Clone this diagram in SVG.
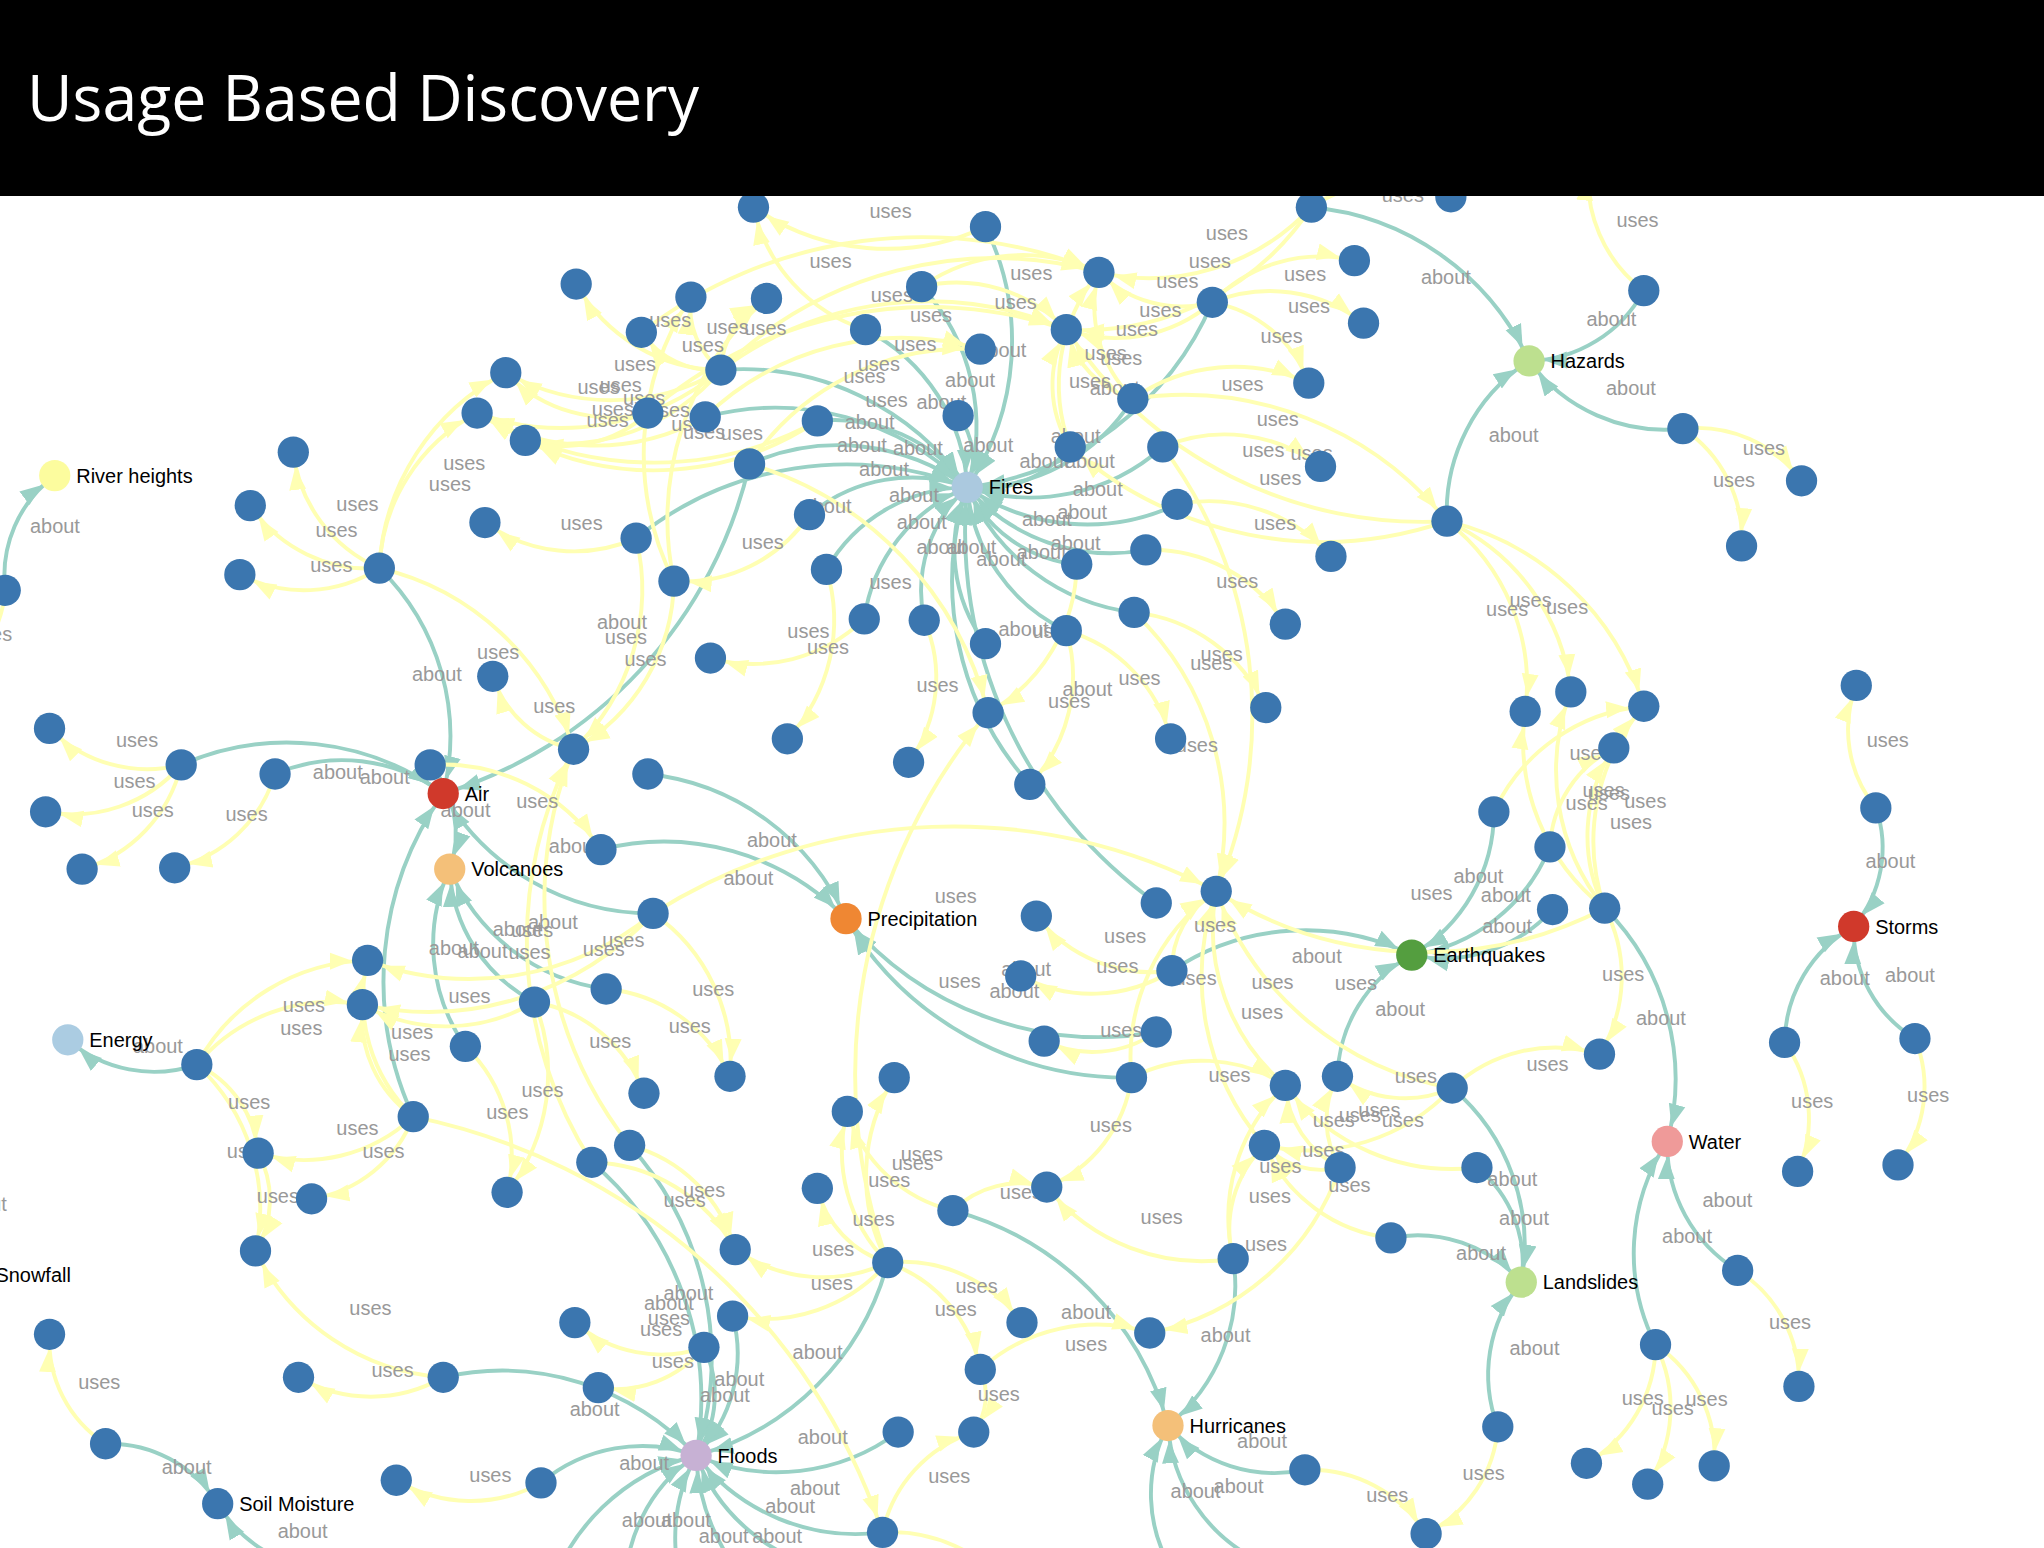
<svg xmlns="http://www.w3.org/2000/svg" width="2044" height="1548" viewBox="0 0 2044 1548">
<style>
.a{fill:none;stroke:#99d1c5;stroke-width:3;marker-end:url(#ma)}
.u{fill:none;stroke:#ffffb3;stroke-width:3;marker-end:url(#mu)}
.el text{font-family:"Liberation Sans",Arial,sans-serif;font-size:15.3px;fill:#999}
.n circle{fill:#3b76af}
.c text{font-family:"Liberation Sans",Arial,sans-serif;font-size:15.3px;fill:#000}
</style>
<defs>
<marker id="ma" markerUnits="userSpaceOnUse" viewBox="0 -8 20 16" refX="29" refY="0" markerWidth="20" markerHeight="16" orient="auto"><path d="M0,-6.5L17,0L0,6.5Z" fill="#99d1c5"/></marker>
<marker id="mu" markerUnits="userSpaceOnUse" viewBox="0 -8 20 16" refX="29" refY="0" markerWidth="20" markerHeight="16" orient="auto"><path d="M0,-6.5L17,0L0,6.5Z" fill="#ffffb3"/></marker>
</defs>
<rect width="2044" height="1548" fill="#fff"/>
<g transform="scale(1.30357,1.30303)">
<g id="links">
<path class="a" d="M4,453A96,96 0 0,1 42,365"/>
<path class="a" d="M1006,159A204,204 0 0,1 1173,277"/>
<path class="a" d="M1261,223A103,103 0 0,1 1173,277"/>
<path class="a" d="M1291,329A129,129 0 0,1 1173,277"/>
<path class="a" d="M1110,400A138,138 0 0,1 1173,277"/>
<path class="a" d="M1439,620A93,93 0 0,1 1422,711"/>
<path class="a" d="M1369,800A104,104 0 0,1 1422,711"/>
<path class="a" d="M1469,797A98,98 0 0,1 1422,711"/>
<path class="a" d="M1333,975A113,113 0 0,1 1279,876"/>
<path class="a" d="M1270,1032A156,156 0 0,1 1279,876"/>
<path class="a" d="M1231,697A185,185 0 0,1 1279,876"/>
<path class="a" d="M1114,835A158,158 0 0,1 1167,984"/>
<path class="a" d="M1133,896A94,94 0 0,1 1167,984"/>
<path class="a" d="M1067,950A106,106 0 0,1 1167,984"/>
<path class="a" d="M1149,1095A112,112 0 0,1 1167,984"/>
<path class="a" d="M1001,1128A110,110 0 0,1 896,1094"/>
<path class="a" d="M946,966A137,137 0 0,1 896,1094"/>
<path class="a" d="M731,929A233,233 0 0,1 896,1094"/>
<path class="a" d="M900,1206A112,112 0 0,1 896,1094"/>
<path class="a" d="M966,1198A125,125 0 0,1 896,1094"/>
<path class="a" d="M1146,623A127,127 0 0,1 1083,733"/>
<path class="a" d="M1189,650A135,135 0 0,1 1083,733"/>
<path class="a" d="M1191,698A114,114 0 0,1 1083,733"/>
<path class="a" d="M899,745A184,184 0 0,1 1083,733"/>
<path class="a" d="M1026,826A109,109 0 0,1 1083,733"/>
<path class="a" d="M139,587A202,202 0 0,1 340,609"/>
<path class="a" d="M211,594A130,130 0 0,1 340,609"/>
<path class="a" d="M330,587A81,81 0 0,1 345,667"/>
<path class="a" d="M291,436A180,180 0 0,1 340,609"/>
<path class="a" d="M575,356A345,345 0 0,1 340,609"/>
<path class="a" d="M501,701A185,185 0 0,1 340,609"/>
<path class="a" d="M317,857A249,249 0 0,1 340,609"/>
<path class="a" d="M410,769A121,121 0 0,1 345,667"/>
<path class="a" d="M465,759A151,151 0 0,1 345,667"/>
<path class="a" d="M357,803A137,137 0 0,1 345,667"/>
<path class="a" d="M497,594A188,188 0 0,1 649,705"/>
<path class="a" d="M461,652A195,195 0 0,1 649,705"/>
<path class="a" d="M887,792A253,253 0 0,1 649,705"/>
<path class="a" d="M868,827A251,251 0 0,1 649,705"/>
<path class="a" d="M151,817A101,101 0 0,1 52,798"/>
<path class="a" d="M81,1108A98,98 0 0,1 167,1154"/>
<path class="a" d="M258,1205A104,104 0 0,1 167,1154"/>
<path class="a" d="M-45,880A101,101 0 0,1 -20,978"/>
<path class="a" d="M340,1057A203,203 0 0,1 534,1117"/>
<path class="a" d="M415,1138A121,121 0 0,1 534,1117"/>
<path class="a" d="M483,879A243,243 0 0,1 534,1117"/>
<path class="a" d="M454,892A239,239 0 0,1 534,1117"/>
<path class="a" d="M562,1010A111,111 0 0,1 534,1117"/>
<path class="a" d="M540,1034A83,83 0 0,1 534,1117"/>
<path class="a" d="M681,969A209,209 0 0,1 534,1117"/>
<path class="a" d="M689,1099A156,156 0 0,1 534,1117"/>
<path class="a" d="M677,1176A155,155 0 0,1 534,1117"/>
<path class="a" d="M420,1227A158,158 0 0,1 534,1117"/>
<path class="a" d="M480,1227A123,123 0 0,1 534,1117"/>
<path class="a" d="M538,1251A134,134 0 0,1 534,1117"/>
<path class="a" d="M620,1251A159,159 0 0,1 534,1117"/>
<path class="a" d="M640,1205A138,138 0 0,1 534,1117"/>
<path class="a" d="M756,174A200,200 0 0,1 742,374"/>
<path class="a" d="M707,220A158,158 0 0,1 742,374"/>
<path class="a" d="M664,253A144,144 0 0,1 742,374"/>
<path class="a" d="M553,284A209,209 0 0,1 742,374"/>
<path class="a" d="M541,320A208,208 0 0,1 742,374"/>
<path class="a" d="M627,323A126,126 0 0,1 742,374"/>
<path class="a" d="M575,356A168,168 0 0,1 742,374"/>
<path class="a" d="M488,413A257,257 0 0,1 742,374"/>
<path class="a" d="M621,395A123,123 0 0,1 742,374"/>
<path class="a" d="M634,437A125,125 0 0,1 742,374"/>
<path class="a" d="M663,475A128,128 0 0,1 742,374"/>
<path class="a" d="M709,476A107,107 0 0,1 742,374"/>
<path class="a" d="M756,494A121,121 0 0,1 742,374"/>
<path class="a" d="M818,484A134,134 0 0,1 742,374"/>
<path class="a" d="M870,470A160,160 0 0,1 742,374"/>
<path class="a" d="M826,433A103,103 0 0,1 742,374"/>
<path class="a" d="M879,422A145,145 0 0,1 742,374"/>
<path class="a" d="M903,387A162,162 0 0,1 742,374"/>
<path class="a" d="M892,343A153,153 0 0,1 742,374"/>
<path class="a" d="M821,343A85,85 0 0,1 742,374"/>
<path class="a" d="M869,306A144,144 0 0,1 742,374"/>
<path class="a" d="M930,232A236,236 0 0,1 742,374"/>
<path class="a" d="M790,602A233,233 0 0,1 742,374"/>
<path class="a" d="M887,693A350,350 0 0,1 742,374"/>
<path class="a" d="M735,319A55,55 0 0,1 742,374"/>
<path class="u" d="M4,453A94,94 0 0,1 -50,530"/>
<path class="u" d="M1261,223A107,107 0 0,1 1219,125"/>
<path class="u" d="M1291,329A99,99 0 0,1 1382,369"/>
<path class="u" d="M1291,329A101,101 0 0,1 1336,419"/>
<path class="u" d="M1439,620A95,95 0 0,1 1424,526"/>
<path class="u" d="M1369,800A100,100 0 0,1 1379,899"/>
<path class="u" d="M1469,797A98,98 0 0,1 1456,894"/>
<path class="u" d="M1333,975A101,101 0 0,1 1380,1064"/>
<path class="u" d="M1270,1032A105,105 0 0,1 1217,1123"/>
<path class="u" d="M1270,1032A107,107 0 0,1 1264,1139"/>
<path class="u" d="M1270,1032A103,103 0 0,1 1315,1125"/>
<path class="u" d="M1149,1095A99,99 0 0,1 1094,1177"/>
<path class="u" d="M1001,1128A105,105 0 0,1 1094,1177"/>
<path class="u" d="M81,1108A94,94 0 0,1 38,1024"/>
<path class="u" d="M415,1138A111,111 0 0,1 304,1136"/>
<path class="u" d="M139,587A105,105 0 0,1 38,559"/>
<path class="u" d="M139,587A110,110 0 0,1 35,623"/>
<path class="u" d="M139,587A110,110 0 0,1 63,667"/>
<path class="u" d="M211,594A105,105 0 0,1 134,666"/>
<path class="u" d="M291,436A111,111 0 0,1 225,347"/>
<path class="u" d="M291,436A110,110 0 0,1 192,388"/>
<path class="u" d="M291,436A107,107 0 0,1 184,441"/>
<path class="u" d="M291,436A179,179 0 0,1 388,286"/>
<path class="u" d="M291,436A141,141 0 0,1 366,317"/>
<path class="u" d="M291,436A204,204 0 0,1 440,575"/>
<path class="u" d="M488,413A117,117 0 0,1 372,401"/>
<path class="u" d="M488,413A169,169 0 0,1 440,575"/>
<path class="u" d="M553,284A129,129 0 0,1 442,218"/>
<path class="u" d="M553,284A61,61 0 0,1 530,228"/>
<path class="u" d="M553,284A65,65 0 0,1 588,229"/>
<path class="u" d="M553,284A68,68 0 0,1 492,255"/>
<path class="u" d="M553,284A165,165 0 0,1 388,286"/>
<path class="u" d="M553,284A190,190 0 0,1 366,317"/>
<path class="u" d="M553,284A159,159 0 0,1 403,338"/>
<path class="u" d="M553,284A300,300 0 0,1 843,209"/>
<path class="u" d="M553,284A267,267 0 0,1 818,253"/>
<path class="u" d="M627,323A261,261 0 0,1 366,317"/>
<path class="u" d="M627,323A225,225 0 0,1 403,338"/>
<path class="u" d="M497,317A113,113 0 0,1 388,286"/>
<path class="u" d="M497,317A96,96 0 0,1 403,338"/>
<path class="u" d="M541,320A175,175 0 0,1 366,317"/>
<path class="u" d="M517,446A218,218 0 0,1 530,228"/>
<path class="u" d="M517,446A228,228 0 0,1 588,229"/>
<path class="u" d="M517,446A150,150 0 0,1 440,575"/>
<path class="u" d="M621,395A116,116 0 0,1 517,446"/>
<path class="u" d="M634,437A133,133 0 0,1 604,567"/>
<path class="u" d="M663,475A122,122 0 0,1 545,505"/>
<path class="u" d="M709,476A110,110 0 0,1 697,585"/>
<path class="u" d="M575,356A198,198 0 0,1 752,268"/>
<path class="u" d="M575,356A265,265 0 0,1 758,547"/>
<path class="u" d="M664,253A127,127 0 0,1 578,159"/>
<path class="u" d="M756,174A179,179 0 0,1 578,159"/>
<path class="u" d="M707,220A116,116 0 0,1 818,253"/>
<path class="u" d="M707,220A136,136 0 0,1 843,209"/>
<path class="u" d="M492,255A354,354 0 0,1 843,209"/>
<path class="u" d="M497,317A327,327 0 0,1 818,253"/>
<path class="u" d="M541,320A217,217 0 0,1 752,268"/>
<path class="u" d="M821,343A136,136 0 0,1 843,209"/>
<path class="u" d="M821,343A90,90 0 0,1 818,253"/>
<path class="u" d="M869,306A74,74 0 0,1 818,253"/>
<path class="u" d="M869,306A100,100 0 0,1 843,209"/>
<path class="u" d="M930,232A90,90 0 0,1 843,209"/>
<path class="u" d="M930,232A114,114 0 0,1 818,253"/>
<path class="u" d="M930,232A114,114 0 0,1 1039,200"/>
<path class="u" d="M930,232A117,117 0 0,1 1046,248"/>
<path class="u" d="M930,232A97,97 0 0,1 1004,294"/>
<path class="u" d="M1006,159A170,170 0 0,1 843,209"/>
<path class="u" d="M1006,159A210,210 0 0,1 818,253"/>
<path class="u" d="M1006,159A107,107 0 0,1 1113,151"/>
<path class="u" d="M869,306A136,136 0 0,1 1004,294"/>
<path class="u" d="M869,306A259,259 0 0,1 1110,400"/>
<path class="u" d="M892,343A122,122 0 0,1 1013,358"/>
<path class="u" d="M903,387A125,125 0 0,1 1021,427"/>
<path class="u" d="M879,422A121,121 0 0,1 986,479"/>
<path class="u" d="M870,470A125,125 0 0,1 971,543"/>
<path class="u" d="M818,484A115,115 0 0,1 898,567"/>
<path class="u" d="M818,484A121,121 0 0,1 790,602"/>
<path class="u" d="M826,433A133,133 0 0,1 758,547"/>
<path class="u" d="M870,470A223,223 0 0,1 933,684"/>
<path class="u" d="M892,343A343,343 0 0,1 933,684"/>
<path class="u" d="M1110,400A327,327 0 0,1 818,253"/>
<path class="u" d="M1110,400A294,294 0 0,1 821,343"/>
<path class="u" d="M1110,400A158,158 0 0,1 1170,546"/>
<path class="u" d="M1110,400A162,162 0 0,1 1205,531"/>
<path class="u" d="M1110,400A207,207 0 0,1 1261,542"/>
<path class="u" d="M1231,697A163,163 0 0,1 1170,546"/>
<path class="u" d="M1231,697A168,168 0 0,1 1205,531"/>
<path class="u" d="M1231,697A158,158 0 0,1 1261,542"/>
<path class="u" d="M1231,697A123,123 0 0,1 1238,574"/>
<path class="u" d="M1146,623A141,141 0 0,1 1261,542"/>
<path class="u" d="M1189,650A90,90 0 0,1 1238,574"/>
<path class="u" d="M1231,697A112,112 0 0,1 1227,809"/>
<path class="u" d="M1231,697A298,298 0 0,1 933,684"/>
<path class="u" d="M501,701A432,432 0 0,1 933,684"/>
<path class="u" d="M899,745A112,112 0 0,1 795,703"/>
<path class="u" d="M899,745A116,116 0 0,1 783,749"/>
<path class="u" d="M899,745A70,70 0 0,1 933,684"/>
<path class="u" d="M887,792A86,86 0 0,1 801,799"/>
<path class="u" d="M868,827A106,106 0 0,1 803,911"/>
<path class="u" d="M868,827A157,157 0 0,1 933,684"/>
<path class="u" d="M868,827A118,118 0 0,1 986,833"/>
<path class="u" d="M1114,835A116,116 0 0,1 1227,809"/>
<path class="u" d="M1114,835A88,88 0 0,1 1026,826"/>
<path class="u" d="M1114,835A151,151 0 0,1 970,879"/>
<path class="u" d="M1114,835A236,236 0 0,1 933,684"/>
<path class="u" d="M986,833A158,158 0 0,1 933,684"/>
<path class="u" d="M1028,896A76,76 0 0,1 986,833"/>
<path class="u" d="M1028,896A70,70 0 0,1 1026,826"/>
<path class="u" d="M1028,896A60,60 0 0,1 970,879"/>
<path class="u" d="M1028,896A194,194 0 0,1 882,1023"/>
<path class="u" d="M1067,950A120,120 0 0,1 970,879"/>
<path class="u" d="M946,966A153,153 0 0,1 803,911"/>
<path class="u" d="M946,966A90,90 0 0,1 970,879"/>
<path class="u" d="M946,966A139,139 0 0,1 986,833"/>
<path class="u" d="M1133,896A160,160 0 0,1 986,833"/>
<path class="u" d="M970,879A198,198 0 0,1 933,684"/>
<path class="u" d="M330,587A146,146 0 0,1 461,652"/>
<path class="u" d="M440,575A84,84 0 0,1 378,519"/>
<path class="u" d="M454,892A317,317 0 0,1 440,575"/>
<path class="u" d="M483,879A307,307 0 0,1 440,575"/>
<path class="u" d="M501,701A222,222 0 0,1 282,737"/>
<path class="u" d="M501,701A234,234 0 0,1 278,771"/>
<path class="u" d="M501,701A138,138 0 0,1 560,826"/>
<path class="u" d="M410,769A148,148 0 0,1 389,915"/>
<path class="u" d="M410,769A109,109 0 0,1 494,839"/>
<path class="u" d="M410,769A132,132 0 0,1 278,771"/>
<path class="u" d="M465,759A116,116 0 0,1 560,826"/>
<path class="u" d="M357,803A116,116 0 0,1 389,915"/>
<path class="u" d="M317,857A125,125 0 0,1 282,737"/>
<path class="u" d="M317,857A94,94 0 0,1 278,771"/>
<path class="u" d="M317,857A122,122 0 0,1 198,885"/>
<path class="u" d="M317,857A100,100 0 0,1 239,920"/>
<path class="u" d="M317,857A481,481 0 0,1 677,1176"/>
<path class="u" d="M151,817A153,153 0 0,1 282,737"/>
<path class="u" d="M151,817A135,135 0 0,1 278,771"/>
<path class="u" d="M151,817A83,83 0 0,1 198,885"/>
<path class="u" d="M198,885A75,75 0 0,1 196,960"/>
<path class="u" d="M340,1057A174,174 0 0,1 196,960"/>
<path class="u" d="M340,1057A111,111 0 0,1 229,1057"/>
<path class="u" d="M454,892A129,129 0 0,1 564,959"/>
<path class="u" d="M483,879A114,114 0 0,1 564,959"/>
<path class="u" d="M540,1034A101,101 0 0,1 441,1015"/>
<path class="u" d="M540,1034A87,87 0 0,1 459,1065"/>
<path class="u" d="M681,969A117,117 0 0,1 564,959"/>
<path class="u" d="M681,969A126,126 0 0,1 562,1010"/>
<path class="u" d="M681,969A142,142 0 0,1 686,827"/>
<path class="u" d="M681,969A120,120 0 0,1 650,853"/>
<path class="u" d="M681,969A429,429 0 0,1 758,547"/>
<path class="u" d="M681,969A113,113 0 0,1 784,1015"/>
<path class="u" d="M681,969A108,108 0 0,1 752,1051"/>
<path class="u" d="M681,969A79,79 0 0,1 627,912"/>
<path class="u" d="M731,929A111,111 0 0,1 650,853"/>
<path class="u" d="M731,929A74,74 0 0,1 803,911"/>
<path class="u" d="M752,1051A48,48 0 0,1 747,1099"/>
<path class="u" d="M677,1176A104,104 0 0,1 747,1099"/>
<path class="u" d="M677,1176A120,120 0 0,1 785,1232"/>
<path class="u" d="M752,1051A133,133 0 0,1 882,1023"/>
<path class="u" d="M151,817A150,150 0 0,1 196,960"/>
</g>
<g id="edge-labels" class="el">
<text x="23" y="409">about</text><text x="1090" y="218">about</text><text x="1217" y="250">about</text><text x="1232" y="303">about</text><text x="1142" y="339">about</text><text x="1431" y="666">about</text><text x="1396" y="756">about</text><text x="1446" y="754">about</text><text x="1306" y="926">about</text><text x="1275" y="954">about</text><text x="1255" y="787">about</text><text x="1141" y="910">about</text><text x="1150" y="940">about</text><text x="1117" y="967">about</text><text x="1158" y="1040">about</text><text x="949" y="1111">about</text><text x="921" y="1030">about</text><text x="814" y="1012">about</text><text x="898" y="1150">about</text><text x="931" y="1146">about</text><text x="1115" y="678">about</text><text x="1136" y="692">about</text><text x="1137" y="716">about</text><text x="991" y="739">about</text><text x="1055" y="780">about</text><text x="240" y="598">about</text><text x="276" y="602">about</text><text x="338" y="627">about</text><text x="316" y="523">about</text><text x="458" y="483">about</text><text x="421" y="655">about</text><text x="329" y="733">about</text><text x="378" y="718">about</text><text x="405" y="713">about</text><text x="351" y="735">about</text><text x="573" y="650">about</text><text x="555" y="679">about</text><text x="768" y="749">about</text><text x="759" y="766">about</text><text x="102" y="808">about</text><text x="124" y="1131">about</text><text x="213" y="1180">about</text><text x="-33" y="929">about</text><text x="437" y="1087">about</text><text x="475" y="1128">about</text><text x="509" y="998">about</text><text x="494" y="1005">about</text><text x="548" y="1064">about</text><text x="537" y="1076">about</text><text x="608" y="1043">about</text><text x="612" y="1108">about</text><text x="606" y="1147">about</text><text x="477" y="1172">about</text><text x="507" y="1172">about</text><text x="536" y="1184">about</text><text x="577" y="1184">about</text><text x="587" y="1161">about</text>
<text x="749" y="274">about</text><text x="725" y="297">about</text><text x="703" y="314">about</text><text x="648" y="329">about</text><text x="642" y="347">about</text><text x="685" y="349">about</text><text x="659" y="365">about</text><text x="615" y="394">about</text><text x="682" y="385">about</text><text x="688" y="406">about</text><text x="703" y="425">about</text><text x="726" y="425">about</text><text x="749" y="434">about</text><text x="780" y="429">about</text><text x="806" y="422">about</text><text x="784" y="404">about</text><text x="811" y="398">about</text><text x="823" y="381">about</text><text x="817" y="359">about</text><text x="782" y="359">about</text><text x="806" y="340">about</text><text x="836" y="303">about</text><text x="766" y="488">about</text><text x="815" y="534">about</text><text x="739" y="347">about</text>
<text x="-23" y="492">uses</text><text x="1240" y="174">uses</text><text x="1337" y="349">uses</text><text x="1314" y="374">uses</text><text x="1432" y="573">uses</text><text x="1374" y="850">uses</text><text x="1463" y="846">uses</text><text x="1357" y="1020">uses</text><text x="1244" y="1078">uses</text><text x="1267" y="1086">uses</text><text x="1293" y="1079">uses</text><text x="1122" y="1136">uses</text><text x="1048" y="1153">uses</text><text x="60" y="1066">uses</text><text x="360" y="1137">uses</text><text x="89" y="573">uses</text><text x="87" y="605">uses</text><text x="101" y="627">uses</text><text x="173" y="630">uses</text><text x="258" y="392">uses</text><text x="242" y="412">uses</text><text x="238" y="439">uses</text><text x="340" y="361">uses</text><text x="329" y="377">uses</text><text x="366" y="506">uses</text><text x="430" y="407">uses</text><text x="464" y="494">uses</text><text x="498" y="251">uses</text><text x="542" y="256">uses</text><text x="571" y="257">uses</text><text x="523" y="270">uses</text><text x="471" y="285">uses</text><text x="460" y="301">uses</text><text x="478" y="311">uses</text><text x="698" y="247">uses</text><text x="686" y="269">uses</text><text x="497" y="320">uses</text><text x="515" y="331">uses</text><text x="443" y="302">uses</text><text x="450" y="328">uses</text><text x="454" y="319">uses</text><text x="524" y="337">uses</text><text x="553" y="338">uses</text><text x="479" y="511">uses</text><text x="569" y="421">uses</text><text x="619" y="502">uses</text><text x="604" y="490">uses</text><text x="703" y="531">uses</text><text x="664" y="312">uses</text><text x="667" y="452">uses</text><text x="621" y="206">uses</text><text x="667" y="167">uses</text><text x="763" y="237">uses</text><text x="775" y="215">uses</text><text x="668" y="232">uses</text><text x="658" y="285">uses</text><text x="647" y="294">uses</text><text x="832" y="276">uses</text><text x="820" y="298">uses</text><text x="844" y="280">uses</text><text x="856" y="258">uses</text><text x="887" y="221">uses</text><text x="874" y="243">uses</text><text x="985" y="216">uses</text><text x="988" y="240">uses</text><text x="967" y="263">uses</text><text x="925" y="184">uses</text><text x="912" y="206">uses</text><text x="1060" y="155">uses</text><text x="937" y="300">uses</text><text x="990" y="353">uses</text><text x="953" y="351">uses</text><text x="962" y="407">uses</text><text x="933" y="451">uses</text><text x="921" y="507">uses</text><text x="858" y="526">uses</text><text x="804" y="543">uses</text><text x="792" y="490">uses</text><text x="902" y="577">uses</text><text x="913" y="514">uses</text><text x="964" y="327">uses</text><text x="966" y="372">uses</text><text x="1140" y="473">uses</text><text x="1158" y="466">uses</text><text x="1186" y="471">uses</text><text x="1201" y="622">uses</text><text x="1218" y="614">uses</text><text x="1246" y="620">uses</text><text x="1235" y="636">uses</text><text x="1204" y="583">uses</text><text x="1214" y="612">uses</text><text x="1229" y="753">uses</text><text x="1082" y="691">uses</text><text x="717" y="693">uses</text><text x="847" y="724">uses</text><text x="841" y="747">uses</text><text x="916" y="715">uses</text><text x="844" y="796">uses</text><text x="836" y="869">uses</text><text x="901" y="756">uses</text><text x="927" y="830">uses</text><text x="1171" y="822">uses</text><text x="1070" y="831">uses</text><text x="1042" y="857">uses</text><text x="1024" y="760">uses</text><text x="960" y="759">uses</text><text x="1007" y="865">uses</text><text x="1027" y="861">uses</text><text x="999" y="888">uses</text><text x="955" y="960">uses</text><text x="1019" y="915">uses</text><text x="875" y="939">uses</text><text x="958" y="923">uses</text><text x="966" y="900">uses</text><text x="1060" y="865">uses</text><text x="952" y="782">uses</text><text x="396" y="620">uses</text><text x="409" y="547">uses</text><text x="447" y="734">uses</text><text x="462" y="727">uses</text><text x="392" y="719">uses</text><text x="390" y="736">uses</text><text x="531" y="764">uses</text><text x="400" y="842">uses</text><text x="452" y="804">uses</text><text x="344" y="770">uses</text><text x="513" y="793">uses</text><text x="373" y="859">uses</text><text x="300" y="797">uses</text><text x="298" y="814">uses</text><text x="258" y="871">uses</text><text x="278" y="889">uses</text><text x="497" y="1017">uses</text><text x="217" y="777">uses</text><text x="215" y="794">uses</text><text x="175" y="851">uses</text><text x="197" y="923">uses</text><text x="268" y="1009">uses</text><text x="285" y="1057">uses</text><text x="509" y="926">uses</text><text x="524" y="919">uses</text><text x="491" y="1025">uses</text><text x="500" y="1050">uses</text><text x="623" y="964">uses</text><text x="622" y="990">uses</text><text x="684" y="898">uses</text><text x="666" y="911">uses</text><text x="720" y="758">uses</text><text x="733" y="992">uses</text><text x="717" y="1010">uses</text><text x="654" y="941">uses</text><text x="691" y="891">uses</text><text x="767" y="920">uses</text><text x="750" y="1075">uses</text><text x="712" y="1138">uses</text><text x="731" y="1216">uses</text><text x="817" y="1037">uses</text><text x="174" y="889">uses</text>
</g>
<g id="nodes">
<g class="n" id="d1"><circle cx="578" cy="159" r="12"/></g>
<g class="n" id="d2"><circle cx="756" cy="174" r="12"/></g>
<g class="n" id="d3"><circle cx="1006" cy="159" r="12"/></g>
<g class="n" id="d4"><circle cx="1113" cy="151" r="12"/></g>
<g class="n" id="d5"><circle cx="843" cy="209" r="12"/></g>
<g class="n" id="d6"><circle cx="1039" cy="200" r="12"/></g>
<g class="n" id="d7"><circle cx="930" cy="232" r="12"/></g>
<g class="n" id="d8"><circle cx="1046" cy="248" r="12"/></g>
<g class="n" id="d9"><circle cx="1261" cy="223" r="12"/></g>
<g class="n" id="d10"><circle cx="442" cy="218" r="12"/></g>
<g class="n" id="d11"><circle cx="530" cy="228" r="12"/></g>
<g class="n" id="d12"><circle cx="588" cy="229" r="12"/></g>
<g class="n" id="d13"><circle cx="707" cy="220" r="12"/></g>
<g class="n" id="d14"><circle cx="492" cy="255" r="12"/></g>
<g class="n" id="d15"><circle cx="553" cy="284" r="12"/></g>
<g class="n" id="d16"><circle cx="664" cy="253" r="12"/></g>
<g class="n" id="d17"><circle cx="752" cy="268" r="12"/></g>
<g class="n" id="d18"><circle cx="818" cy="253" r="12"/></g>
<g class="n" id="d19"><circle cx="388" cy="286" r="12"/></g>
<g class="n" id="d20"><circle cx="366" cy="317" r="12"/></g>
<g class="n" id="d21"><circle cx="403" cy="338" r="12"/></g>
<g class="n" id="d22"><circle cx="497" cy="317" r="12"/></g>
<g class="n" id="d23"><circle cx="541" cy="320" r="12"/></g>
<g class="n" id="d24"><circle cx="627" cy="323" r="12"/></g>
<g class="n" id="d25"><circle cx="735" cy="319" r="12"/></g>
<g class="n" id="d26"><circle cx="869" cy="306" r="12"/></g>
<g class="n" id="d27"><circle cx="1004" cy="294" r="12"/></g>
<g class="n" id="d28"><circle cx="225" cy="347" r="12"/></g>
<g class="n" id="d29"><circle cx="192" cy="388" r="12"/></g>
<g class="n" id="d30"><circle cx="184" cy="441" r="12"/></g>
<g class="n" id="d31"><circle cx="291" cy="436" r="12"/></g>
<g class="n" id="d32"><circle cx="372" cy="401" r="12"/></g>
<g class="n" id="d33"><circle cx="488" cy="413" r="12"/></g>
<g class="n" id="d34"><circle cx="575" cy="356" r="12"/></g>
<g class="n" id="d35"><circle cx="621" cy="395" r="12"/></g>
<g class="n" id="d36"><circle cx="634" cy="437" r="12"/></g>
<g class="n" id="d37"><circle cx="517" cy="446" r="12"/></g>
<g class="n" id="d38"><circle cx="821" cy="343" r="12"/></g>
<g class="n" id="d39"><circle cx="892" cy="343" r="12"/></g>
<g class="n" id="d40"><circle cx="1013" cy="358" r="12"/></g>
<g class="n" id="d41"><circle cx="903" cy="387" r="12"/></g>
<g class="n" id="d42"><circle cx="1110" cy="400" r="12"/></g>
<g class="n" id="d43"><circle cx="879" cy="422" r="12"/></g>
<g class="n" id="d44"><circle cx="826" cy="433" r="12"/></g>
<g class="n" id="d45"><circle cx="1021" cy="427" r="12"/></g>
<g class="n" id="d46"><circle cx="1291" cy="329" r="12"/></g>
<g class="n" id="d47"><circle cx="1382" cy="369" r="12"/></g>
<g class="n" id="d48"><circle cx="1336" cy="419" r="12"/></g>
<g class="n" id="d49"><circle cx="4" cy="453" r="12"/></g>
<g class="n" id="d50"><circle cx="663" cy="475" r="12"/></g>
<g class="n" id="d51"><circle cx="709" cy="476" r="12"/></g>
<g class="n" id="d52"><circle cx="756" cy="494" r="12"/></g>
<g class="n" id="d53"><circle cx="818" cy="484" r="12"/></g>
<g class="n" id="d54"><circle cx="870" cy="470" r="12"/></g>
<g class="n" id="d55"><circle cx="986" cy="479" r="12"/></g>
<g class="n" id="d56"><circle cx="545" cy="505" r="12"/></g>
<g class="n" id="d57"><circle cx="378" cy="519" r="12"/></g>
<g class="n" id="d58"><circle cx="758" cy="547" r="12"/></g>
<g class="n" id="d59"><circle cx="604" cy="567" r="12"/></g>
<g class="n" id="d60"><circle cx="697" cy="585" r="12"/></g>
<g class="n" id="d61"><circle cx="790" cy="602" r="12"/></g>
<g class="n" id="d62"><circle cx="898" cy="567" r="12"/></g>
<g class="n" id="d63"><circle cx="971" cy="543" r="12"/></g>
<g class="n" id="d64"><circle cx="440" cy="575" r="12"/></g>
<g class="n" id="d65"><circle cx="497" cy="594" r="12"/></g>
<g class="n" id="d66"><circle cx="330" cy="587" r="12"/></g>
<g class="n" id="d67"><circle cx="38" cy="559" r="12"/></g>
<g class="n" id="d68"><circle cx="139" cy="587" r="12"/></g>
<g class="n" id="d69"><circle cx="211" cy="594" r="12"/></g>
<g class="n" id="d70"><circle cx="35" cy="623" r="12"/></g>
<g class="n" id="d71"><circle cx="63" cy="667" r="12"/></g>
<g class="n" id="d72"><circle cx="134" cy="666" r="12"/></g>
<g class="n" id="d73"><circle cx="1170" cy="546" r="12"/></g>
<g class="n" id="d74"><circle cx="1205" cy="531" r="12"/></g>
<g class="n" id="d75"><circle cx="1261" cy="542" r="12"/></g>
<g class="n" id="d76"><circle cx="1238" cy="574" r="12"/></g>
<g class="n" id="d77"><circle cx="1424" cy="526" r="12"/></g>
<g class="n" id="d78"><circle cx="1439" cy="620" r="12"/></g>
<g class="n" id="d79"><circle cx="1146" cy="623" r="12"/></g>
<g class="n" id="d80"><circle cx="1189" cy="650" r="12"/></g>
<g class="n" id="d81"><circle cx="1191" cy="698" r="12"/></g>
<g class="n" id="d82"><circle cx="1231" cy="697" r="12"/></g>
<g class="n" id="d83"><circle cx="461" cy="652" r="12"/></g>
<g class="n" id="d84"><circle cx="501" cy="701" r="12"/></g>
<g class="n" id="d85"><circle cx="795" cy="703" r="12"/></g>
<g class="n" id="d86"><circle cx="887" cy="693" r="12"/></g>
<g class="n" id="d87"><circle cx="933" cy="684" r="12"/></g>
<g class="n" id="d88"><circle cx="899" cy="745" r="12"/></g>
<g class="n" id="d89"><circle cx="783" cy="749" r="12"/></g>
<g class="n" id="d90"><circle cx="282" cy="737" r="12"/></g>
<g class="n" id="d91"><circle cx="278" cy="771" r="12"/></g>
<g class="n" id="d92"><circle cx="410" cy="769" r="12"/></g>
<g class="n" id="d93"><circle cx="465" cy="759" r="12"/></g>
<g class="n" id="d94"><circle cx="357" cy="803" r="12"/></g>
<g class="n" id="d95"><circle cx="151" cy="817" r="12"/></g>
<g class="n" id="d96"><circle cx="317" cy="857" r="12"/></g>
<g class="n" id="d97"><circle cx="198" cy="885" r="12"/></g>
<g class="n" id="d98"><circle cx="239" cy="920" r="12"/></g>
<g class="n" id="d99"><circle cx="389" cy="915" r="12"/></g>
<g class="n" id="d100"><circle cx="494" cy="839" r="12"/></g>
<g class="n" id="d101"><circle cx="560" cy="826" r="12"/></g>
<g class="n" id="d102"><circle cx="686" cy="827" r="12"/></g>
<g class="n" id="d103"><circle cx="650" cy="853" r="12"/></g>
<g class="n" id="d104"><circle cx="801" cy="799" r="12"/></g>
<g class="n" id="d105"><circle cx="887" cy="792" r="12"/></g>
<g class="n" id="d106"><circle cx="868" cy="827" r="12"/></g>
<g class="n" id="d107"><circle cx="986" cy="833" r="12"/></g>
<g class="n" id="d108"><circle cx="1026" cy="826" r="12"/></g>
<g class="n" id="d109"><circle cx="1114" cy="835" r="12"/></g>
<g class="n" id="d110"><circle cx="1227" cy="809" r="12"/></g>
<g class="n" id="d111"><circle cx="970" cy="879" r="12"/></g>
<g class="n" id="d112"><circle cx="1028" cy="896" r="12"/></g>
<g class="n" id="d113"><circle cx="1133" cy="896" r="12"/></g>
<g class="n" id="d114"><circle cx="1067" cy="950" r="12"/></g>
<g class="n" id="d115"><circle cx="946" cy="966" r="12"/></g>
<g class="n" id="d116"><circle cx="803" cy="911" r="12"/></g>
<g class="n" id="d117"><circle cx="731" cy="929" r="12"/></g>
<g class="n" id="d118"><circle cx="627" cy="912" r="12"/></g>
<g class="n" id="d119"><circle cx="483" cy="879" r="12"/></g>
<g class="n" id="d120"><circle cx="454" cy="892" r="12"/></g>
<g class="n" id="d121"><circle cx="564" cy="959" r="12"/></g>
<g class="n" id="d122"><circle cx="681" cy="969" r="12"/></g>
<g class="n" id="d123"><circle cx="196" cy="960" r="12"/></g>
<g class="n" id="d124"><circle cx="1369" cy="800" r="12"/></g>
<g class="n" id="d125"><circle cx="1469" cy="797" r="12"/></g>
<g class="n" id="d126"><circle cx="1379" cy="899" r="12"/></g>
<g class="n" id="d127"><circle cx="1456" cy="894" r="12"/></g>
<g class="n" id="d128"><circle cx="1333" cy="975" r="12"/></g>
<g class="n" id="d129"><circle cx="1380" cy="1064" r="12"/></g>
<g class="n" id="d130"><circle cx="1270" cy="1032" r="12"/></g>
<g class="n" id="d131"><circle cx="1217" cy="1123" r="12"/></g>
<g class="n" id="d132"><circle cx="1264" cy="1139" r="12"/></g>
<g class="n" id="d133"><circle cx="1315" cy="1125" r="12"/></g>
<g class="n" id="d134"><circle cx="1149" cy="1095" r="12"/></g>
<g class="n" id="d135"><circle cx="1001" cy="1128" r="12"/></g>
<g class="n" id="d136"><circle cx="1094" cy="1177" r="12"/></g>
<g class="n" id="d137"><circle cx="882" cy="1023" r="12"/></g>
<g class="n" id="d138"><circle cx="784" cy="1015" r="12"/></g>
<g class="n" id="d139"><circle cx="752" cy="1051" r="12"/></g>
<g class="n" id="d140"><circle cx="747" cy="1099" r="12"/></g>
<g class="n" id="d141"><circle cx="689" cy="1099" r="12"/></g>
<g class="n" id="d142"><circle cx="677" cy="1176" r="12"/></g>
<g class="n" id="d143"><circle cx="562" cy="1010" r="12"/></g>
<g class="n" id="d144"><circle cx="540" cy="1034" r="12"/></g>
<g class="n" id="d145"><circle cx="441" cy="1015" r="12"/></g>
<g class="n" id="d146"><circle cx="459" cy="1065" r="12"/></g>
<g class="n" id="d147"><circle cx="340" cy="1057" r="12"/></g>
<g class="n" id="d148"><circle cx="229" cy="1057" r="12"/></g>
<g class="n" id="d149"><circle cx="415" cy="1138" r="12"/></g>
<g class="n" id="d150"><circle cx="304" cy="1136" r="12"/></g>
<g class="n" id="d151"><circle cx="38" cy="1024" r="12"/></g>
<g class="n" id="d152"><circle cx="81" cy="1108" r="12"/></g>
<g class="c" id="river-heights"><circle cx="42" cy="365" r="12" fill="#fcfc9e"/><text x="58.5" y="370.5">River heights</text></g>
<g class="c" id="air"><circle cx="340" cy="609" r="12" fill="#d0392b"/><text x="356.5" y="614.5">Air</text></g>
<g class="c" id="volcanoes"><circle cx="345" cy="667" r="12" fill="#f4c079"/><text x="361.5" y="672.5">Volcanoes</text></g>
<g class="c" id="precipitation"><circle cx="649" cy="705" r="12" fill="#ef8733"/><text x="665.5" y="710.5">Precipitation</text></g>
<g class="c" id="fires"><circle cx="742" cy="374" r="12" fill="#abc9df"/><text x="758.5" y="379.5">Fires</text></g>
<g class="c" id="hazards"><circle cx="1173" cy="277" r="12" fill="#bde08f"/><text x="1189.5" y="282.5">Hazards</text></g>
<g class="c" id="earthquakes"><circle cx="1083" cy="733" r="12" fill="#549e3f"/><text x="1099.5" y="738.5">Earthquakes</text></g>
<g class="c" id="storms"><circle cx="1422" cy="711" r="12" fill="#d0392b"/><text x="1438.5" y="716.5">Storms</text></g>
<g class="c" id="water"><circle cx="1279" cy="876" r="12" fill="#ef9a99"/><text x="1295.5" y="881.5">Water</text></g>
<g class="c" id="landslides"><circle cx="1167" cy="984" r="12" fill="#bde08f"/><text x="1183.5" y="989.5">Landslides</text></g>
<g class="c" id="hurricanes"><circle cx="896" cy="1094" r="12" fill="#f4c079"/><text x="912.5" y="1099.5">Hurricanes</text></g>
<g class="c" id="floods"><circle cx="534" cy="1117" r="12" fill="#c7b1d4"/><text x="550.5" y="1122.5">Floods</text></g>
<g class="c" id="energy"><circle cx="52" cy="798" r="12" fill="#abcce2"/><text x="68.5" y="803.5">Energy</text></g>
<g class="c" id="snowfall"><circle cx="-20" cy="978" r="12" fill="#abcce2"/><text x="-3.5" y="983.5">Snowfall</text></g>
<g class="c" id="soil-moisture"><circle cx="167" cy="1154" r="12" fill="#3b76af"/><text x="183.5" y="1159.5">Soil Moisture</text></g>
</g>
</g>
<g id="header">
<rect x="0" y="0" width="2044" height="196" fill="#000"/>
<text x="27" y="121" font-family="'Open Sans','DejaVu Sans',sans-serif" font-size="64" fill="#fff" textLength="672" lengthAdjust="spacingAndGlyphs">Usage Based Discovery</text>
</g>
</svg>
